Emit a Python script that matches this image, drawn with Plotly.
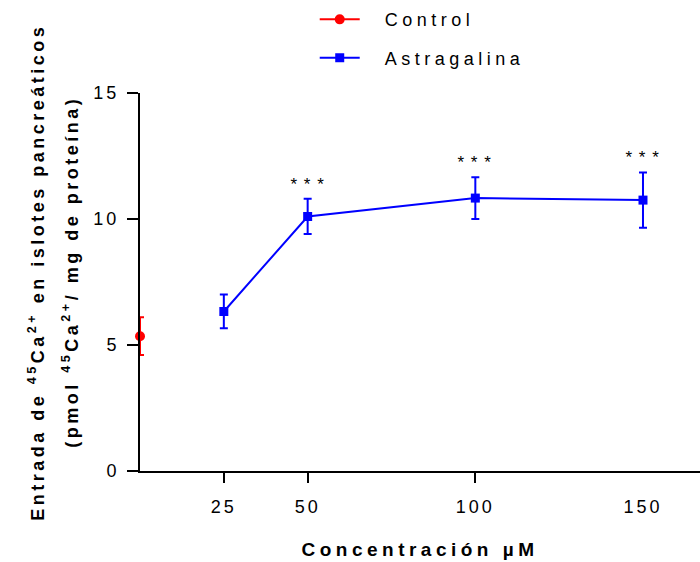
import plotly.graph_objects as go

# Data
control_x = [0]
control_y = [5.35]
control_err = [0.75]

conc = [25, 50, 100, 150]
astra_y = [6.33, 10.1, 10.83, 10.75]
astra_err = [0.67, 0.7, 0.83, 1.1]
sig = ["", "* * *", "* * *", "* * *"]

xtick_vals = [25, 50, 100, 150]
xtick_marks = [25, 50, 100]
ytick_vals = [0, 5, 10, 15]

ytitle_line1 = "Entrada de <sup>45</sup>Ca<sup>2+</sup> en islotes pancreáticos"
ytitle_line2 = "(pmol <sup>45</sup>Ca<sup>2+</sup>/ mg de proteína)"
xtitle = "Concentración µM"

FONT = "Liberation Sans, Arial, sans-serif"

fig = go.Figure()
fig.add_trace(go.Scatter(
    x=control_x, y=control_y, name="Control", mode="lines+markers",
    line=dict(color="#ff0000", width=2),
    marker=dict(color="#ff0000", symbol="circle", size=10),
    error_y=dict(type="data", array=control_err, color="#ff0000", thickness=2, width=4),
    cliponaxis=False, legendgroup="a",
))
fig.add_trace(go.Scatter(
    x=conc, y=astra_y, name="Astragalina", mode="lines+markers",
    line=dict(color="#0000ff", width=2),
    marker=dict(color="#0000ff", symbol="square", size=9),
    error_y=dict(type="data", array=astra_err, color="#0000ff", thickness=2, width=4),
    cliponaxis=False, legendgroup="b",
))
# invisible trace to host tick marks on overlay axis
fig.add_trace(go.Scatter(x=xtick_marks, y=[None]*len(xtick_marks), xaxis="x2",
                         showlegend=False, hoverinfo="skip", mode="markers"))

for xv, yv, ev, s in zip(conc, astra_y, astra_err, sig):
    if s:
        fig.add_annotation(x=xv, y=yv + ev, text=s, showarrow=False,
                           yanchor="bottom", yshift=3,
                           font=dict(family=FONT, size=17, color="black"))

# y-axis title as two rotated lines
for txt, px in [(ytitle_line1, 36), (ytitle_line2, 70)]:
    fig.add_annotation(text="<b>" + txt + "</b>", textangle=-90, showarrow=False,
                       xref="paper", yref="paper",
                       x=(px - 140) / 560, y=0.5 + 10 / 378,
                       xanchor="center", yanchor="middle",
                       font=dict(family=FONT, size=18, color="black"))

fig.update_layout(
    width=700, height=562,
    margin=dict(l=140, r=0, t=93, b=91),
    plot_bgcolor="white", paper_bgcolor="white",
    font=dict(family=FONT, size=18, color="black"),
    showlegend=True,
    legend=dict(x=0.312, y=1.243, xanchor="left", yanchor="top",
                font=dict(family=FONT, size=18, color="black"),
                traceorder="grouped", tracegroupgap=12, itemwidth=40,
                bgcolor="rgba(0,0,0,0)"),
    xaxis=dict(range=[0, 167], tickvals=xtick_vals, ticks="",
               showline=True, linecolor="black", linewidth=2,
               showgrid=False, zeroline=False, ticklabelstandoff=18,
               tickfont=dict(family=FONT, size=18, color="black"),
               title=dict(text="<b>" + xtitle + "</b>", standoff=27,
                          font=dict(family=FONT, size=19, color="black"))),
    xaxis2=dict(range=[0, 167], overlaying="x", side="bottom", tickvals=xtick_marks,
                ticks="outside", ticklen=11, tickwidth=2, tickcolor="black",
                showticklabels=False, showgrid=False, zeroline=False, showline=False),
    yaxis=dict(range=[0, 15], tickvals=ytick_vals, ticks="outside", ticklen=11,
               tickwidth=2, tickcolor="black",
               showline=True, linecolor="black", linewidth=2,
               showgrid=False, zeroline=False, ticklabelstandoff=4,
               tickfont=dict(family=FONT, size=18, color="black")),
)

post = """
var gd = document.getElementById('{plot_id}');
function fixText(){
  gd.querySelectorAll('.legend .scrollbox').forEach(function(s){
    s.removeAttribute('clip-path');
  });
  gd.querySelectorAll('.legend').forEach(function(s){
    s.style.overflow = 'visible';
  });
  gd.querySelectorAll('.legendtext').forEach(function(t){
    t.style.letterSpacing = '4.5px'; t.setAttribute('x', 70);
  });
  gd.querySelectorAll('.xtick text, .ytick text').forEach(function(t){
    t.style.letterSpacing = '3px';
  });
  gd.querySelectorAll('.xtitle').forEach(function(t){
    t.style.letterSpacing = '4.5px';
  });
  gd.querySelectorAll('.annotation-text').forEach(function(t){
    if (t.textContent.indexOf('*') >= 0) { t.style.letterSpacing = '1px'; }
    else { t.style.letterSpacing = '3.5px'; }
  });
}
fixText();
gd.on('plotly_afterplot', fixText);
"""

fig.write_html("out.html", post_script=post)
